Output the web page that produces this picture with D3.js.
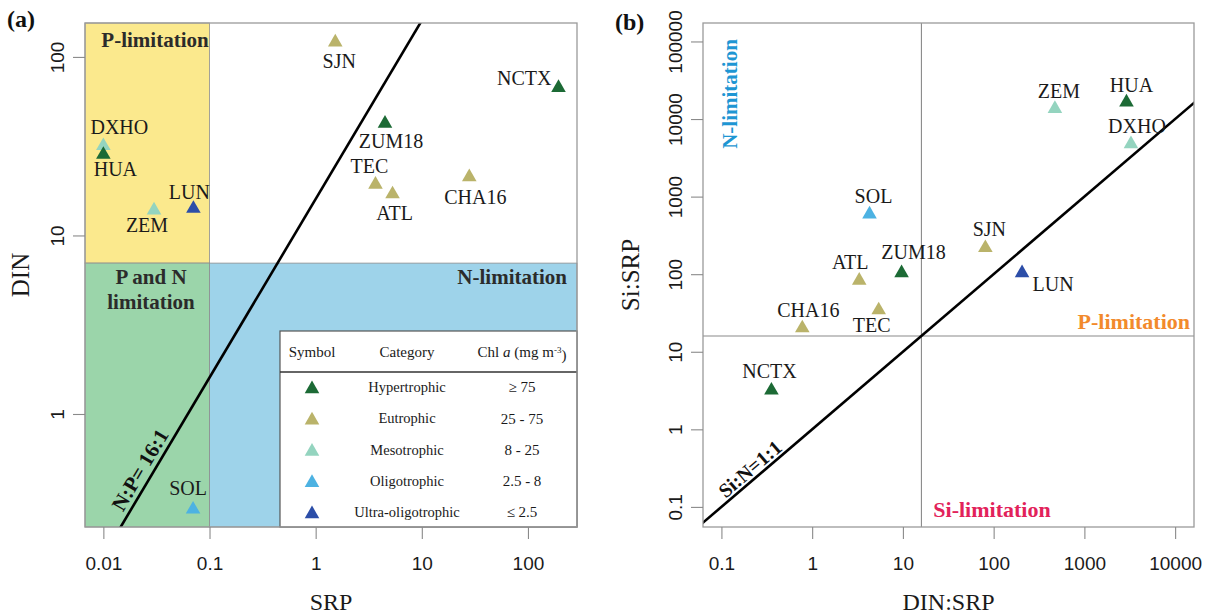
<!DOCTYPE html>
<html>
<head>
<meta charset="utf-8">
<script src="https://cdn.jsdelivr.net/npm/d3@7"></script>
<style>
  body { margin: 0; background: #fff; }
  svg { display: block; }
  text { font-family: "Liberation Serif", "Times New Roman", serif; }
</style>
</head>
<body>
<svg id="fig" width="1215" height="616"></svg>
<script>
// ---- Site data ----
const sites    = ["SJN", "NCTX", "ZUM18", "DXHO", "HUA", "TEC", "ATL", "CHA16", "LUN", "ZEM", "SOL"];
const siteCat  = ["Eutrophic", "Hypertrophic", "Hypertrophic", "Mesotrophic", "Hypertrophic",
                  "Eutrophic", "Eutrophic", "Eutrophic", "Ultra-oligotrophic", "Mesotrophic", "Oligotrophic"];
const srp      = [1.53, 194, 4.5, 0.01, 0.01, 3.66, 5.3, 28, 0.0705, 0.030, 0.070];
const din      = [124, 69, 43.5, 32.6, 29.1, 19.8, 17.5, 21.8, 14.5, 14.2, 0.30];
const siSrp    = [232, 3.37, 110, 5070, 17500, 36.6, 88, 21.4, 110, 14400, 628];

// ---- Trophic categories ----
const categories = ["Hypertrophic", "Eutrophic", "Mesotrophic", "Oligotrophic", "Ultra-oligotrophic"];
const chlRanges  = ["\u2265 75", "25 - 75", "8 - 25", "2.5 - 8", "\u2264 2.5"];
const catColors  = ["#1c6a35", "#bab36a", "#94d4bf", "#4db2e2", "#2c4ea8"];

// ---- Thresholds ----
const srpLimit = 0.1;      // SRP threshold
const dinLimit = 7;        // DIN threshold
const npRatio  = 16;       // Redfield N:P
const ratioLimit = 16;     // DIN:SRP and Si:SRP threshold

// ---- Axis ticks ----
const ticksA_x = [0.01, 0.1, 1, 10, 100];
const ticksA_xLabels = ["0.01", "0.1", "1", "10", "100"];
const ticksA_y = [1, 10, 100];
const ticksA_yLabels = ["1", "10", "100"];
const ticksB_x = [0.1, 1, 10, 100, 1000, 10000];
const ticksB_xLabels = ["0.1", "1", "10", "100", "1000", "10000"];
const ticksB_y = [0.1, 1, 10, 100, 1000, 10000, 100000];
const ticksB_yLabels = ["0.1", "1", "10", "100", "1000", "10000", "100000"];

// ---- Label placement (pixel offsets from each marker) ----
const labelPosA = {
  SJN: [4, 21], NCTX: [-7, -8, "end"], ZUM18: [6, 20], DXHO: [16, -17], HUA: [12, 16],
  TEC: [-6, -16], ATL: [2, 21], CHA16: [6, 22], LUN: [-4, -15], ZEM: [-7, 17], SOL: [-5, -19]
};
const labelPosB = {
  ZEM: [4, -16], HUA: [5, -15], DXHO: [6, -16], SOL: [4, -16], SJN: [4, -17],
  ZUM18: [12, -19], ATL: [-9, -16], LUN: [31, 13], CHA16: [6, -16], TEC: [-7, 17], NCTX: [-2, -17]
};

const SANS = "'Liberation Sans', Arial, sans-serif";
const SERIF = "'Liberation Serif', 'Times New Roman', serif";
const colorOf = d3.scaleOrdinal().domain(categories).range(catColors);
const tri = d3.symbol().type(d3.symbolTriangle).size(92);

const svg = d3.select("#fig").attr("font-family", SERIF);
const rows = sites.map((s, i) => ({
  site: s, cat: siteCat[i], srp: srp[i], din: din[i], np: din[i] / srp[i], si: siSrp[i]
}));

function styleAxis(g, labels, rotate) {
  g.select(".domain").remove();
  g.selectAll(".tick line").attr("stroke", "#8a8a8a").attr("stroke-width", 1.1);
  g.selectAll(".tick text")
    .text((d, i) => labels[i])
    .attr("fill", "#1a1a1a")
    .style("font-size", "19px")
    .style("font-family", SANS);
  if (rotate) {
    g.selectAll(".tick text")
      .attr("transform", "rotate(-90)")
      .attr("x", 0).attr("y", -28).attr("dy", "0.35em")
      .attr("text-anchor", "middle");
  }
}

function marker(g, x, y, color) {
  g.append("path")
    .attr("d", tri())
    .attr("transform", `translate(${x},${y + 2})`)
    .attr("fill", color);
}

// =================== Panel (a): DIN vs SRP ===================
const A = { left: 85, right: 577, top: 23, bottom: 527 };
const xA = d3.scaleLog().domain([Math.pow(10, -2.173), Math.pow(10, 2.462)]).range([A.left, A.right]);
const yA = d3.scaleLog().domain([Math.pow(10, -0.633), Math.pow(10, 2.19)]).range([A.bottom, A.top]);

const gA = svg.append("g");
svg.append("defs").append("clipPath").attr("id", "clipA")
  .append("rect").attr("x", A.left).attr("y", A.top)
  .attr("width", A.right - A.left).attr("height", A.bottom - A.top);

// limitation regions
const regions = [
  { x0: xA.domain()[0], x1: srpLimit, y0: dinLimit, y1: yA.domain()[1], fill: "#fbe98d" },
  { x0: xA.domain()[0], x1: srpLimit, y0: yA.domain()[0], y1: dinLimit, fill: "#9bd5aa" },
  { x0: srpLimit, x1: xA.domain()[1], y0: yA.domain()[0], y1: dinLimit, fill: "#9ed3ea" }
];
gA.selectAll("rect.region").data(regions).join("rect")
  .attr("class", "region")
  .attr("x", d => xA(d.x0)).attr("width", d => xA(d.x1) - xA(d.x0))
  .attr("y", d => yA(d.y1)).attr("height", d => yA(d.y0) - yA(d.y1))
  .attr("fill", d => d.fill)
  .attr("stroke", "#8d8d8d").attr("stroke-width", 0.8);

// region labels
const regLabA = gA.append("g").attr("font-weight", "bold").attr("fill", "#2b2b2b")
  .attr("font-family", SERIF).style("font-size", "21px");
regLabA.append("text").attr("x", 155).attr("y", 40).attr("dy", "0.35em")
  .attr("text-anchor", "middle").text("P-limitation");
regLabA.append("text").attr("x", 151).attr("y", 277).attr("dy", "0.35em")
  .attr("text-anchor", "middle").text("P and N");
regLabA.append("text").attr("x", 151).attr("y", 302).attr("dy", "0.35em")
  .attr("text-anchor", "middle").text("limitation");
regLabA.append("text").attr("x", 567).attr("y", 277).attr("dy", "0.35em")
  .attr("text-anchor", "end").text("N-limitation");

// N:P = 16:1 line
const lineSrp = [0.001, 1000];
gA.append("path")
  .attr("clip-path", "url(#clipA)")
  .attr("d", d3.line()(lineSrp.map(s => [xA(s), yA(s * npRatio)])))
  .attr("stroke", "#000").attr("stroke-width", 2.6).attr("fill", "none");

const angA = Math.atan2(yA(10 * npRatio) - yA(npRatio), xA(10) - xA(1)) * 180 / Math.PI;
const npAt = 0.028;
gA.append("text")
  .attr("transform", `translate(${xA(npAt)},${yA(npAt * npRatio)}) rotate(${angA})`)
  .attr("text-anchor", "middle").attr("dy", -5.5)
  .attr("font-family", SERIF)
  .attr("font-weight", "bold").style("font-size", "21px").attr("fill", "#111")
  .text("N:P= 16:1");

// legend table
const L = { left: 280, right: 577, top: 331, bottom: 527, header: 372 };
const gL = gA.append("g").attr("font-family", SERIF);
gL.append("rect").attr("x", L.left).attr("y", L.top)
  .attr("width", L.right - L.left).attr("height", L.bottom - L.top)
  .attr("fill", "#fff").attr("stroke", "#555").attr("stroke-width", 1.2);
gL.append("line").attr("x1", L.left).attr("x2", L.right)
  .attr("y1", L.header).attr("y2", L.header)
  .attr("stroke", "#333").attr("stroke-width", 1.6);
const colX = [312, 407, 522];
const hdr = gL.append("g").style("font-size", "15px").attr("fill", "#1a1a1a").attr("text-anchor", "middle");
hdr.append("text").attr("x", colX[0]).attr("y", 352).attr("dy", "0.35em").text("Symbol");
hdr.append("text").attr("x", colX[1]).attr("y", 352).attr("dy", "0.35em").text("Category");
const chlT = hdr.append("text").attr("x", colX[2]).attr("y", 352).attr("dy", "0.35em");
chlT.append("tspan").text("Chl ");
chlT.append("tspan").attr("font-style", "italic").text("a");
chlT.append("tspan").text(" (mg m");
chlT.append("tspan").attr("dy", "-0.45em").style("font-size", "9px").text("-3");
chlT.append("tspan").attr("dy", "0.45em").text(")");

const rowY = d3.scalePoint().domain(categories).range([387, 512]);
categories.forEach((c, i) => {
  marker(gL, colX[0], rowY(c), catColors[i]);
  gL.append("text").attr("x", colX[1]).attr("y", rowY(c)).attr("dy", "0.35em")
    .attr("text-anchor", "middle").style("font-size", "14.5px").attr("fill", "#1a1a1a").text(c);
  gL.append("text").attr("x", colX[2]).attr("y", rowY(c)).attr("dy", "0.35em")
    .attr("text-anchor", "middle").style("font-size", "15px").attr("fill", "#1a1a1a").text(chlRanges[i]);
});

// frame
gA.append("rect").attr("x", A.left).attr("y", A.top)
  .attr("width", A.right - A.left).attr("height", A.bottom - A.top)
  .attr("fill", "none").attr("stroke", "#9a9a9a").attr("stroke-width", 1.3);

// points and labels
rows.forEach(d => marker(gA, xA(d.srp), yA(d.din), colorOf(d.cat)));
gA.append("g").attr("font-family", SERIF).style("font-size", "20px").attr("fill", "#1a1a1a")
  .selectAll("text").data(rows).join("text")
  .attr("x", d => xA(d.srp) + labelPosA[d.site][0])
  .attr("y", d => yA(d.din) + labelPosA[d.site][1])
  .attr("dy", "0.35em")
  .attr("text-anchor", d => labelPosA[d.site][2] || "middle")
  .text(d => d.site);

// axes
gA.append("g").attr("transform", `translate(0,${A.bottom})`)
  .call(d3.axisBottom(xA).tickValues(ticksA_x).tickSize(12).tickPadding(17.5))
  .call(g => styleAxis(g, ticksA_xLabels, false));
gA.append("g").attr("transform", `translate(${A.left},0)`)
  .call(d3.axisLeft(yA).tickValues(ticksA_y).tickSize(12))
  .call(g => styleAxis(g, ticksA_yLabels, true));

gA.append("text").attr("x", (A.left + A.right) / 2).attr("y", 610)
  .attr("font-family", SERIF)
  .attr("text-anchor", "middle").style("font-size", "24px").attr("fill", "#1a1a1a").text("SRP");
gA.append("text").attr("transform", `translate(29,${(A.top + A.bottom) / 2}) rotate(-90)`)
  .attr("font-family", SERIF)
  .attr("text-anchor", "middle").style("font-size", "25px").attr("fill", "#1a1a1a").text("DIN");
gA.append("text").attr("x", 7).attr("y", 27).attr("font-weight", "bold")
  .attr("font-family", SERIF)
  .style("font-size", "24px").attr("fill", "#111").text("(a)");

// =================== Panel (b): Si:SRP vs DIN:SRP ===================
const B = { left: 703, right: 1194, top: 23, bottom: 527 };
const xB = d3.scaleLog().domain([Math.pow(10, -1.203), Math.pow(10, 4.208)]).range([B.left, B.right]);
const yB = d3.scaleLog().domain([Math.pow(10, -1.259), Math.pow(10, 5.238)]).range([B.bottom, B.top]);

const gB = svg.append("g").attr("font-family", SERIF);
svg.select("defs").append("clipPath").attr("id", "clipB")
  .append("rect").attr("x", B.left).attr("y", B.top)
  .attr("width", B.right - B.left).attr("height", B.bottom - B.top);

// threshold lines
gB.append("line").attr("x1", xB(ratioLimit)).attr("x2", xB(ratioLimit))
  .attr("y1", B.top).attr("y2", B.bottom).attr("stroke", "#8a8a8a").attr("stroke-width", 1.1);
gB.append("line").attr("x1", B.left).attr("x2", B.right)
  .attr("y1", yB(ratioLimit)).attr("y2", yB(ratioLimit)).attr("stroke", "#8a8a8a").attr("stroke-width", 1.1);

// Si:N = 1:1 line
const oneToOne = [0.01, 100000];
gB.append("path")
  .attr("clip-path", "url(#clipB)")
  .attr("d", d3.line()(oneToOne.map(v => [xB(v), yB(v)])))
  .attr("stroke", "#000").attr("stroke-width", 2.6).attr("fill", "none");
const angB = Math.atan2(yB(10) - yB(1), xB(10) - xB(1)) * 180 / Math.PI;
const siAt = 0.245;
gB.append("text")
  .attr("transform", `translate(${xB(siAt)},${yB(siAt)}) rotate(${angB})`)
  .attr("text-anchor", "middle").attr("dy", -3.5)
  .attr("font-weight", "bold").style("font-size", "20px").attr("fill", "#111")
  .text("Si:N=1:1");

// region labels
gB.append("text").attr("transform", "translate(730,94) rotate(-90)")
  .attr("text-anchor", "middle").attr("dy", "0.35em")
  .attr("font-weight", "bold").style("font-size", "21px").attr("fill", "#1e96d3")
  .text("N-limitation");
gB.append("text").attr("x", 1190).attr("y", 321.5).attr("dy", "0.35em")
  .attr("text-anchor", "end")
  .attr("font-weight", "bold").style("font-size", "22px").attr("fill", "#f28a2c")
  .text("P-limitation");
gB.append("text").attr("x", 992).attr("y", 509).attr("dy", "0.35em")
  .attr("text-anchor", "middle")
  .attr("font-weight", "bold").style("font-size", "22px").attr("fill", "#e2225a")
  .text("Si-limitation");

// frame
gB.append("rect").attr("x", B.left).attr("y", B.top)
  .attr("width", B.right - B.left).attr("height", B.bottom - B.top)
  .attr("fill", "none").attr("stroke", "#9a9a9a").attr("stroke-width", 1.3);

// points and labels
rows.forEach(d => marker(gB, xB(d.np), yB(d.si), colorOf(d.cat)));
gB.append("g").style("font-size", "20px").attr("fill", "#1a1a1a")
  .selectAll("text").data(rows).join("text")
  .attr("x", d => xB(d.np) + labelPosB[d.site][0])
  .attr("y", d => yB(d.si) + labelPosB[d.site][1])
  .attr("dy", "0.35em")
  .attr("text-anchor", "middle")
  .text(d => d.site);

// axes
gB.append("g").attr("transform", `translate(0,${B.bottom})`)
  .call(d3.axisBottom(xB).tickValues(ticksB_x).tickSize(12).tickPadding(17.5))
  .call(g => styleAxis(g, ticksB_xLabels, false));
gB.append("g").attr("transform", `translate(${B.left},0)`)
  .call(d3.axisLeft(yB).tickValues(ticksB_y).tickSize(12))
  .call(g => styleAxis(g, ticksB_yLabels, true));

gB.append("text").attr("x", (B.left + B.right) / 2).attr("y", 610)
  .attr("text-anchor", "middle").style("font-size", "24px").attr("fill", "#1a1a1a").text("DIN:SRP");
gB.append("text").attr("transform", `translate(639,${(B.top + B.bottom) / 2}) rotate(-90)`)
  .attr("text-anchor", "middle").style("font-size", "25px").attr("fill", "#1a1a1a").text("Si:SRP");
gB.append("text").attr("x", 615).attr("y", 30).attr("font-weight", "bold")
  .style("font-size", "24px").attr("fill", "#111").text("(b)");
</script>
</body>
</html>
